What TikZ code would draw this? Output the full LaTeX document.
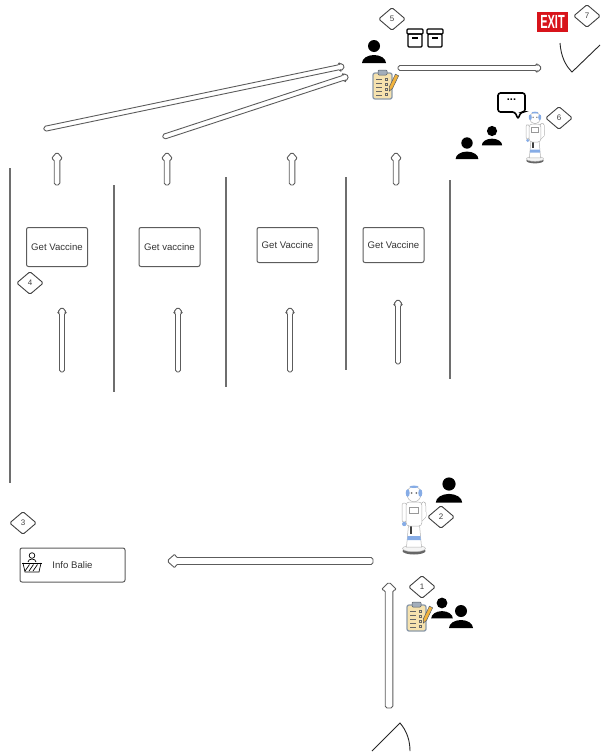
\documentclass[tikz,border=0pt]{standalone}
\usepackage{fontspec}
\setmainfont{Liberation Sans}
\usepackage{graphicx}
\usetikzlibrary{arrows.meta, positioning, shapes.geometric, calc}

\definecolor{wallgray}{HTML}{6E6E6E}
\definecolor{linegray}{HTML}{5C5C5C}
\definecolor{clipfill}{HTML}{F6E2AE}
\definecolor{clipedge}{HTML}{8C9AAA}
\definecolor{pencil}{HTML}{F2B33D}
\definecolor{exitred}{HTML}{D8141B}
\definecolor{robotblue}{HTML}{86ACE6}

% hollow block arrow: tail, tip, half body width, half head width, head length
\newcommand{\hollowarrow}[5]{%
  \coordinate (ha-base) at ($(#2)!#5!(#1)$);
  \filldraw[arrowbody] ($(#1)!#3!90:(#2)$) -- ($(ha-base)!#3!90:(#2)$)
    -- ($(ha-base)!#4!90:(#2)$) -- (#2) -- ($(ha-base)!#4!-90:(#2)$)
    -- ($(ha-base)!#3!-90:(#2)$) -- ($(#1)!#3!-90:(#2)$) -- cycle;
}

\begin{document}
\begin{tikzpicture}[x=1pt, y=-1pt,
  wall/.style={draw=wallgray, line width=1.3pt},
  arrowbody/.style={draw=linegray, fill=white, line width=0.9pt, rounded corners=1.8pt, line join=round},
  booth/.style={draw=linegray, line width=1pt, rounded corners=2pt, minimum width=61pt,
    minimum height=39pt, inner sep=0pt, font=\fontsize{9.6}{11}\selectfont, text=black!80},
  stepno/.style={diamond, draw=black!75, line width=0.9pt, rounded corners=1.5pt, minimum width=27pt,
    minimum height=23pt, inner sep=0pt, font=\fontsize{8}{9}\selectfont, text=black!75},
  person/.pic={
    \fill (0,0) circle[radius=6];
    \fill (-12,17) arc[start angle=180, end angle=360, x radius=12, y radius=8] -- cycle;
  },
  archive/.pic={
    \draw[line width=1.4pt, rounded corners=1pt] (-8,-9) rectangle (8,-4);
    \draw[line width=1.4pt, rounded corners=1pt] (-7,-4) rectangle (7,9);
    \draw[line width=1.2pt] (-3,0) -- (3,0);
  },
  clipboard/.pic={
    \filldraw[fill=clipfill, draw=clipedge, line width=1.3pt, rounded corners=2pt] (-11,-11) rectangle (8,15);
    \filldraw[fill=clipedge!80, draw=clipedge!60!black, line width=0.5pt, rounded corners=1pt] (-6,-14) rectangle (3,-9);
    \foreach \yy in {-5,-1,3,7,11} \draw[black!60, line width=0.9pt] (-8,\yy) -- (-2,\yy);
    \foreach \yy in {-6,-1,4,9} \draw[black!60, line width=0.6pt] (1,\yy) rectangle ++(2.5,2.5);
    \filldraw[fill=pencil, draw=clipedge!60!black, line width=0.5pt]
      (11.4,-9.8) -- (14.6,-8.2) -- (8.6,4.3) -- (5.3,7.1) -- (5.4,2.7) -- cycle;
  },
  robot/.pic={
    % wheeled base
    \fill[black!60] (0,57) ellipse[x radius=11.5, y radius=3.5];
    \filldraw[fill=gray!8, draw=gray!50, line width=0.5pt] (0,54.5) ellipse[x radius=11.5, y radius=3.2];
    % skirt
    \filldraw[fill=white, draw=gray!60, line width=0.5pt] (-5.5,31) -- (5.5,31) -- (7.5,53) -- (-7.5,53) -- cycle;
    \fill[robotblue] (-6.4,42) -- (6.4,42) -- (6.8,46) -- (-6.8,46) -- cycle;
    \fill[black!75] (-3.8,32) rectangle (-2,40);
    % arms
    \filldraw[fill=white, draw=gray!60, line width=0.5pt, rounded corners=2pt] (-12,9) rectangle (-7.5,28);
    \fill[robotblue] (-9.8,30) circle[radius=2.2];
    \draw[gray!60, line width=4.8pt, line cap=round, line join=round] (9.5,10) -- (10,22) -- (5,27);
    \draw[white, line width=3.8pt, line cap=round, line join=round] (9.5,10) -- (10,22) -- (5,27);
    \fill[robotblue] (4.5,27.5) circle[radius=2];
    % torso with tablet
    \filldraw[fill=white, draw=gray!60, line width=0.5pt, rounded corners=3pt] (-7.8,8) rectangle (7.8,32);
    \filldraw[fill=white, draw=gray!80, line width=0.6pt] (-4.5,13) rectangle (4.5,19);
    % head
    \filldraw[fill=white, draw=gray!60, line width=0.5pt] (0,0) ellipse[x radius=7, y radius=7.8];
    \fill[robotblue] (-6.3,-1) ellipse[x radius=2, y radius=3.8];
    \fill[robotblue] (6.3,-1) ellipse[x radius=2, y radius=3.8];
    \fill[robotblue] (0,-7.2) ellipse[x radius=4.5, y radius=1.2];
    \fill[black!55] (-2.4,-1) circle[radius=1] (2.4,-1) circle[radius=1];
  }]

  \useasboundingbox (0,0) rectangle (600,755);

  % walls between the booths
  \foreach \x/\top/\bot in {10/168/483, 114/185/392, 226/177/387, 346/177/370, 450/180/379} {
    \draw[wall] (\x,\top) -- (\x,\bot);
  }

  % vaccine booths
  \node[booth] (gv1) at (57,247) {Get Vaccine};
  \node[booth] (gv2) at (169.5,247) {Get vaccine};
  \node[booth, minimum height=35pt] (gv3) at (287.5,245) {Get Vaccine};
  \node[booth, minimum height=35pt] (gv4) at (393.5,245) {Get Vaccine};

  % queue arrows into the booths
  \foreach \n/\x/\t/\b in {1/62/307/372, 2/178/307/372, 3/290/307/372, 4/398/299/364} {
    \coordinate (in\n-a) at (\x,\b);
    \coordinate (in\n-b) at (\x,\t);
    \hollowarrow{in\n-a}{in\n-b}{2.5pt}{4.8pt}{5.5pt}
  }

  % short arrows out of the booths
  \foreach \n/\x in {1/57, 2/167, 3/292, 4/396} {
    \coordinate (out\n-a) at (\x,185);
    \coordinate (out\n-b) at (\x,152);
    \hollowarrow{out\n-a}{out\n-b}{2.8pt}{6pt}{7pt}
  }

  % info desk
  \node[booth, minimum width=105pt, minimum height=34pt] (info) at (72.5,565) {Info Balie};
  \begin{scope}[shift={(32,563)}, line width=0.7pt]
    \draw (0,-7.5) circle[radius=2.8];
    \draw (-4,-1) arc[start angle=180, end angle=360, x radius=4, y radius=3];
    \draw (-10,0) -- (10,0);
    \draw (-9,0) -- (-7,9) -- (7,9) -- (9,0);
    \foreach \xx in {-5,-1,3} \draw (\xx-2,8) -- (\xx+2.5,1.5);
  \end{scope}

  % registration desk at the top
  \pic at (374,46) {person};
  \pic (box1) at (415,38) {archive};
  \pic (box2) at (435,38) {archive};
  \pic (reg) at (384,84) {clipboard};

  % waiting area near the exit
  \pic[scale=0.95] at (467,143) {person};
  \pic[scale=0.85] at (492,131) {person};
  \pic[scale=0.75] (pep6) at (535,118) {robot};
  \draw[line width=1.6pt, rounded corners=2.5pt] (498,93) -- (525,93) -- (525,112) -- (521,112)
    -- (518,119) -- (515,112) -- (498,112) -- cycle;
  \node[font=\fontsize{11}{11}\selectfont\bfseries] (talk) at (511.5,100) {...};

  % exit sign and door
  \node[fill=exitred, inner sep=0pt, minimum width=31pt, minimum height=20pt, text=white,
    font=\fontsize{19}{19}\selectfont\bfseries] (exitsign) at (552.5,22) {\scalebox{0.58}[1]{EXIT}};
  \draw[black!85, line width=0.9pt] (560,43) .. controls (561,56) and (565,65) .. (572,72) -- (600,45);

  % entrance robot and queue
  \pic (pep2) at (414,494) {robot};
  \pic[scale=1.1] at (449,484) {person};
  \pic (intake) at (418,616) {clipboard};
  \pic[scale=0.9] at (442,603) {person};
  \pic at (461,611) {person};

  % entrance door
  \draw[black!85, line width=0.9pt] (372,751) -- (400,723) .. controls (407,731) and (410,741) .. (410,751);

  % main route
  \coordinate (door) at (389,708);
  \coordinate (hall) at (389,582);
  \hollowarrow{door}{hall}{3.8pt}{8pt}{8pt}
  \coordinate (turn) at (373,561);
  \coordinate (desk) at (167,561);
  \hollowarrow{turn}{desk}{3.5pt}{7.5pt}{8.5pt}
  \coordinate (left1) at (44,129);
  \coordinate (reg1) at (345,66);
  \hollowarrow{left1}{reg1}{2.5pt}{4.5pt}{5pt}
  \coordinate (left2) at (163,137);
  \coordinate (reg2) at (349,76);
  \hollowarrow{left2}{reg2}{2.5pt}{4.5pt}{5pt}
  \coordinate (regout) at (398,68);
  \coordinate (exitin) at (542,68);
  \hollowarrow{regout}{exitin}{2.5pt}{4.5pt}{5pt}

  % step numbers
  \node[stepno] (s1) at (422,587) {1};
  \node[stepno] (s2) at (441,517) {2};
  \node[stepno] (s3) at (23,523) {3};
  \node[stepno] (s4) at (30,283) {4};
  \node[stepno] (s5) at (392,19) {5};
  \node[stepno] (s6) at (559,118) {6};
  \node[stepno] (s7) at (587,16) {7};
\end{tikzpicture}
\end{document}
